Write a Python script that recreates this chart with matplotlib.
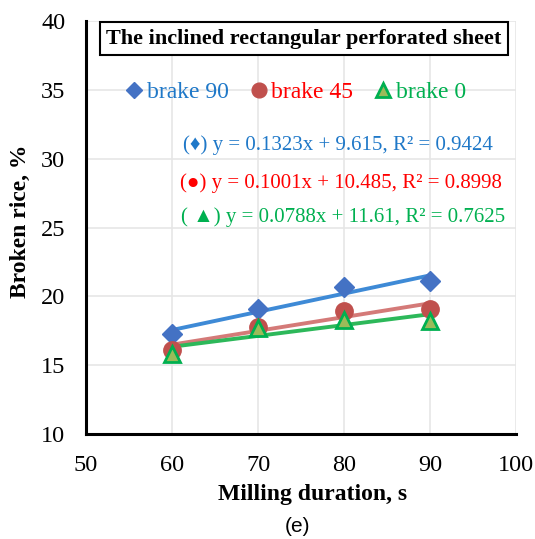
import matplotlib
matplotlib.use("Agg")
import matplotlib.pyplot as plt
import numpy as np

x = [60, 70, 80, 90]
brake90 = [17.3, 19.1, 20.7, 21.1]
brake45 = [16.1, 17.8, 18.9, 19.1]
brake0 = [15.8, 17.7, 18.3, 18.2]
fits = [(0.1323, 9.615), (0.1001, 10.485), (0.0788, 11.61)]
eq_texts = ["(\u2666) y = 0.1323x + 9.615, R\u00b2 = 0.9424",
            "(\u25cf) y = 0.1001x + 10.485, R\u00b2 = 0.8998",
            "( \u25b2) y = 0.0788x + 11.61, R\u00b2 = 0.7625"]
labels = ["brake 90", "brake 45", "brake 0"]

plt.rcParams['font.family'] = ['Liberation Serif', 'DejaVu Serif']

fig = plt.figure(figsize=(5.35, 5.39), dpi=100)
ax = fig.add_axes([86/535, 1-434/539, (516-86)/535, (434-21)/539])

series = [brake90, brake45, brake0]
mstyles = [dict(marker='D', color='#4472C4', mec='#4472C4', ms=10),
           dict(marker='o', color='#C0504D', mec='#C0504D', ms=12.5),
           dict(marker='^', color='#9BBB59', mec='#00B050', ms=11.5, mew=2)]
line_colors = ['#3E8AD6', '#D47A78', '#2DB85A']
text_colors = ['#1F78C8', '#FF0000', '#00B050']

xf = np.array([60, 90])
for (m, b), lc in zip(fits, line_colors):
    ax.plot(xf, m*xf + b, color=lc, lw=2.8, zorder=2)
handles = []
for s, st, lab in zip(series, mstyles, labels):
    h, = ax.plot(x, s, linestyle='none', zorder=3, label=lab, **st)
    handles.append(h)

ax.set_xlim(50, 100)
ax.set_ylim(10, 40)
ax.set_xticks(range(50, 101, 10))
ax.set_yticks(range(10, 41, 5))
ax.grid(True, color='#E6E6E6', lw=1.2)
ax.set_axisbelow(True)
for sp in ['top', 'right']:
    ax.spines[sp].set_visible(False)
for sp in ['left', 'bottom']:
    ax.spines[sp].set_linewidth(2.2)
ax.tick_params(length=0, labelsize=17.5)
ax.tick_params(axis='y', pad=15)
ax.tick_params(axis='x', pad=15)
ax.set_xlabel('Milling duration, s', fontsize=17, fontweight='bold')
ax.set_ylabel('Broken rice, %', fontsize=17, fontweight='bold')
ax.xaxis.set_label_coords(0.526, -0.12)
ax.yaxis.set_label_coords(-0.128, 0.516)

ax.text(0.507, 0.957, 'The inclined rectangular perforated sheet', transform=ax.transAxes,
        ha='center', va='center', fontsize=16, fontweight='bold',
        bbox=dict(boxstyle='square,pad=0.3', fc='white', ec='black', lw=1.5))

leg = ax.legend(handles=handles, loc='center', bbox_to_anchor=(0.49, 0.828), ncol=3,
                frameon=False, fontsize=17, handlelength=0.55, handletextpad=0.25,
                columnspacing=1.0, markerscale=0.85)
for t, c in zip(leg.get_texts(), text_colors):
    t.set_color(c)

eq_y = [145, 183, 217]
eq_x = [493, 502, 505]
for t, c, yy, xx in zip(eq_texts, text_colors, eq_y, eq_x):
    fig.text(xx/535, 1-yy/539, t, ha='right', va='center', fontsize=15, color=c)

fig.text(298/535, 1-527/539, '(e)', ha='center', va='center', fontsize=15,
         family='Liberation Sans')

fig.savefig('out.png', dpi=100)
